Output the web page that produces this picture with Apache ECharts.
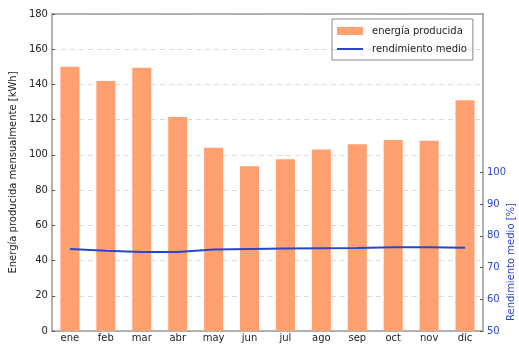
<!DOCTYPE html>
<html>
<head>
<meta charset="utf-8">
<script src="https://cdn.jsdelivr.net/npm/echarts@6/dist/echarts.min.js"></script>
<style>
  html, body { margin: 0; padding: 0; background: #fff; }
  #chart { width: 519px; height: 345px; }
</style>
</head>
<body>
<div id="chart"></div>
<script>
// Monthly energy produced and average efficiency
const months = ['ene', 'feb', 'mar', 'abr', 'may', 'jun', 'jul', 'ago', 'sep', 'oct', 'nov', 'dic'];
const energyKWh = [150, 142, 149.5, 121.5, 104, 93.5, 97.5, 103, 106, 108.5, 108, 131];
const efficiencyPct = [75.9, 75.3, 74.9, 74.9, 75.7, 75.9, 76.0, 76.1, 76.2, 76.4, 76.4, 76.3];
const leftTicks = [0, 20, 40, 60, 80, 100, 120, 140, 160, 180];
const rightTicks = [50, 60, 70, 80, 90, 100];

const FONT = 'DejaVu Sans';
const BLUE = '#2a46c8';
const ORANGE = '#ffa070';
const FRAME = '#9a9a9a';

const chart = echarts.init(document.getElementById('chart'), null, { renderer: 'canvas' });

chart.setOption({
  animation: false,
  backgroundColor: '#ffffff',
  textStyle: { fontFamily: FONT },
  grid: { left: 48, right: 36, top: 14, bottom: 14, containLabel: false },
  legend: {
    left: 332, top: 19,
    orient: 'vertical',
    itemWidth: 26, itemHeight: 8, itemGap: 8,
    padding: [7, 6, 6, 4],
    borderColor: '#888', borderWidth: 1,
    textStyle: { fontFamily: FONT, fontSize: 10, color: '#222', padding: [0, 0, 0, 4] },
    data: [
      { name: 'energía producida', icon: 'rect' },
      { name: 'rendimiento medio', itemStyle: { opacity: 0 } }
    ]
  },
  xAxis: [
    {
      type: 'category', data: months, position: 'bottom',
      axisLine: { lineStyle: { color: FRAME, width: 1.5 } },
      axisTick: { inside: true, alignWithLabel: true, length: 3, lineStyle: { color: '#555' } },
      axisLabel: { fontFamily: FONT, fontSize: 10, color: '#222', margin: 2 }
    },
    {
      type: 'category', data: months, position: 'top',
      axisLine: { lineStyle: { color: FRAME, width: 1.5 } },
      axisTick: { inside: true, alignWithLabel: true, length: 3, lineStyle: { color: '#555' } },
      axisLabel: { show: false }
    }
  ],
  yAxis: [
    {
      type: 'value', min: 0, max: 180, interval: 20, position: 'left',
      name: 'Energía producida mensualmente [kWh]',
      nameLocation: 'middle', nameGap: 31,
      nameTextStyle: { fontFamily: FONT, fontSize: 10, color: '#222' },
      axisLine: { show: true, lineStyle: { color: FRAME, width: 1.5 } },
      axisTick: { show: true, inside: true, length: 3, lineStyle: { color: '#555' } },
      axisLabel: { fontFamily: FONT, fontSize: 10, color: '#222', margin: 4,
        customValues: leftTicks },
      splitLine: { show: true, lineStyle: { color: '#dcdcdc', type: [5, 4], width: 1 } }
    },
    {
      type: 'value', min: 50, max: 150, interval: 10, position: 'right',
      axisLine: { show: true, lineStyle: { color: FRAME, width: 1.5 } },
      axisTick: { show: true, inside: true, length: 3, lineStyle: { color: '#555' },
        customValues: rightTicks },
      axisLabel: { fontFamily: FONT, fontSize: 10, color: BLUE, margin: 4,
        customValues: rightTicks },
      splitLine: { show: false }
    }
  ],
  graphic: [
    {
      type: 'text', x: 511, y: 262, rotation: Math.PI / 2,
      style: {
        text: 'Rendimiento medio [%]', fill: BLUE,
        font: '10px "DejaVu Sans"', textAlign: 'center', textVerticalAlign: 'middle'
      }
    }
  ],
  series: [
    {
      name: 'energía producida', type: 'bar',
      xAxisIndex: 0, yAxisIndex: 0,
      data: energyKWh, barWidth: '53%',
      itemStyle: { color: ORANGE }
    },
    {
      name: 'rendimiento medio', type: 'line',
      xAxisIndex: 0, yAxisIndex: 1,
      data: efficiencyPct, symbol: 'none', smooth: false,
      lineStyle: { color: BLUE, width: 2 },
      itemStyle: { color: BLUE }
    }
  ]
});
</script>
</body>
</html>
